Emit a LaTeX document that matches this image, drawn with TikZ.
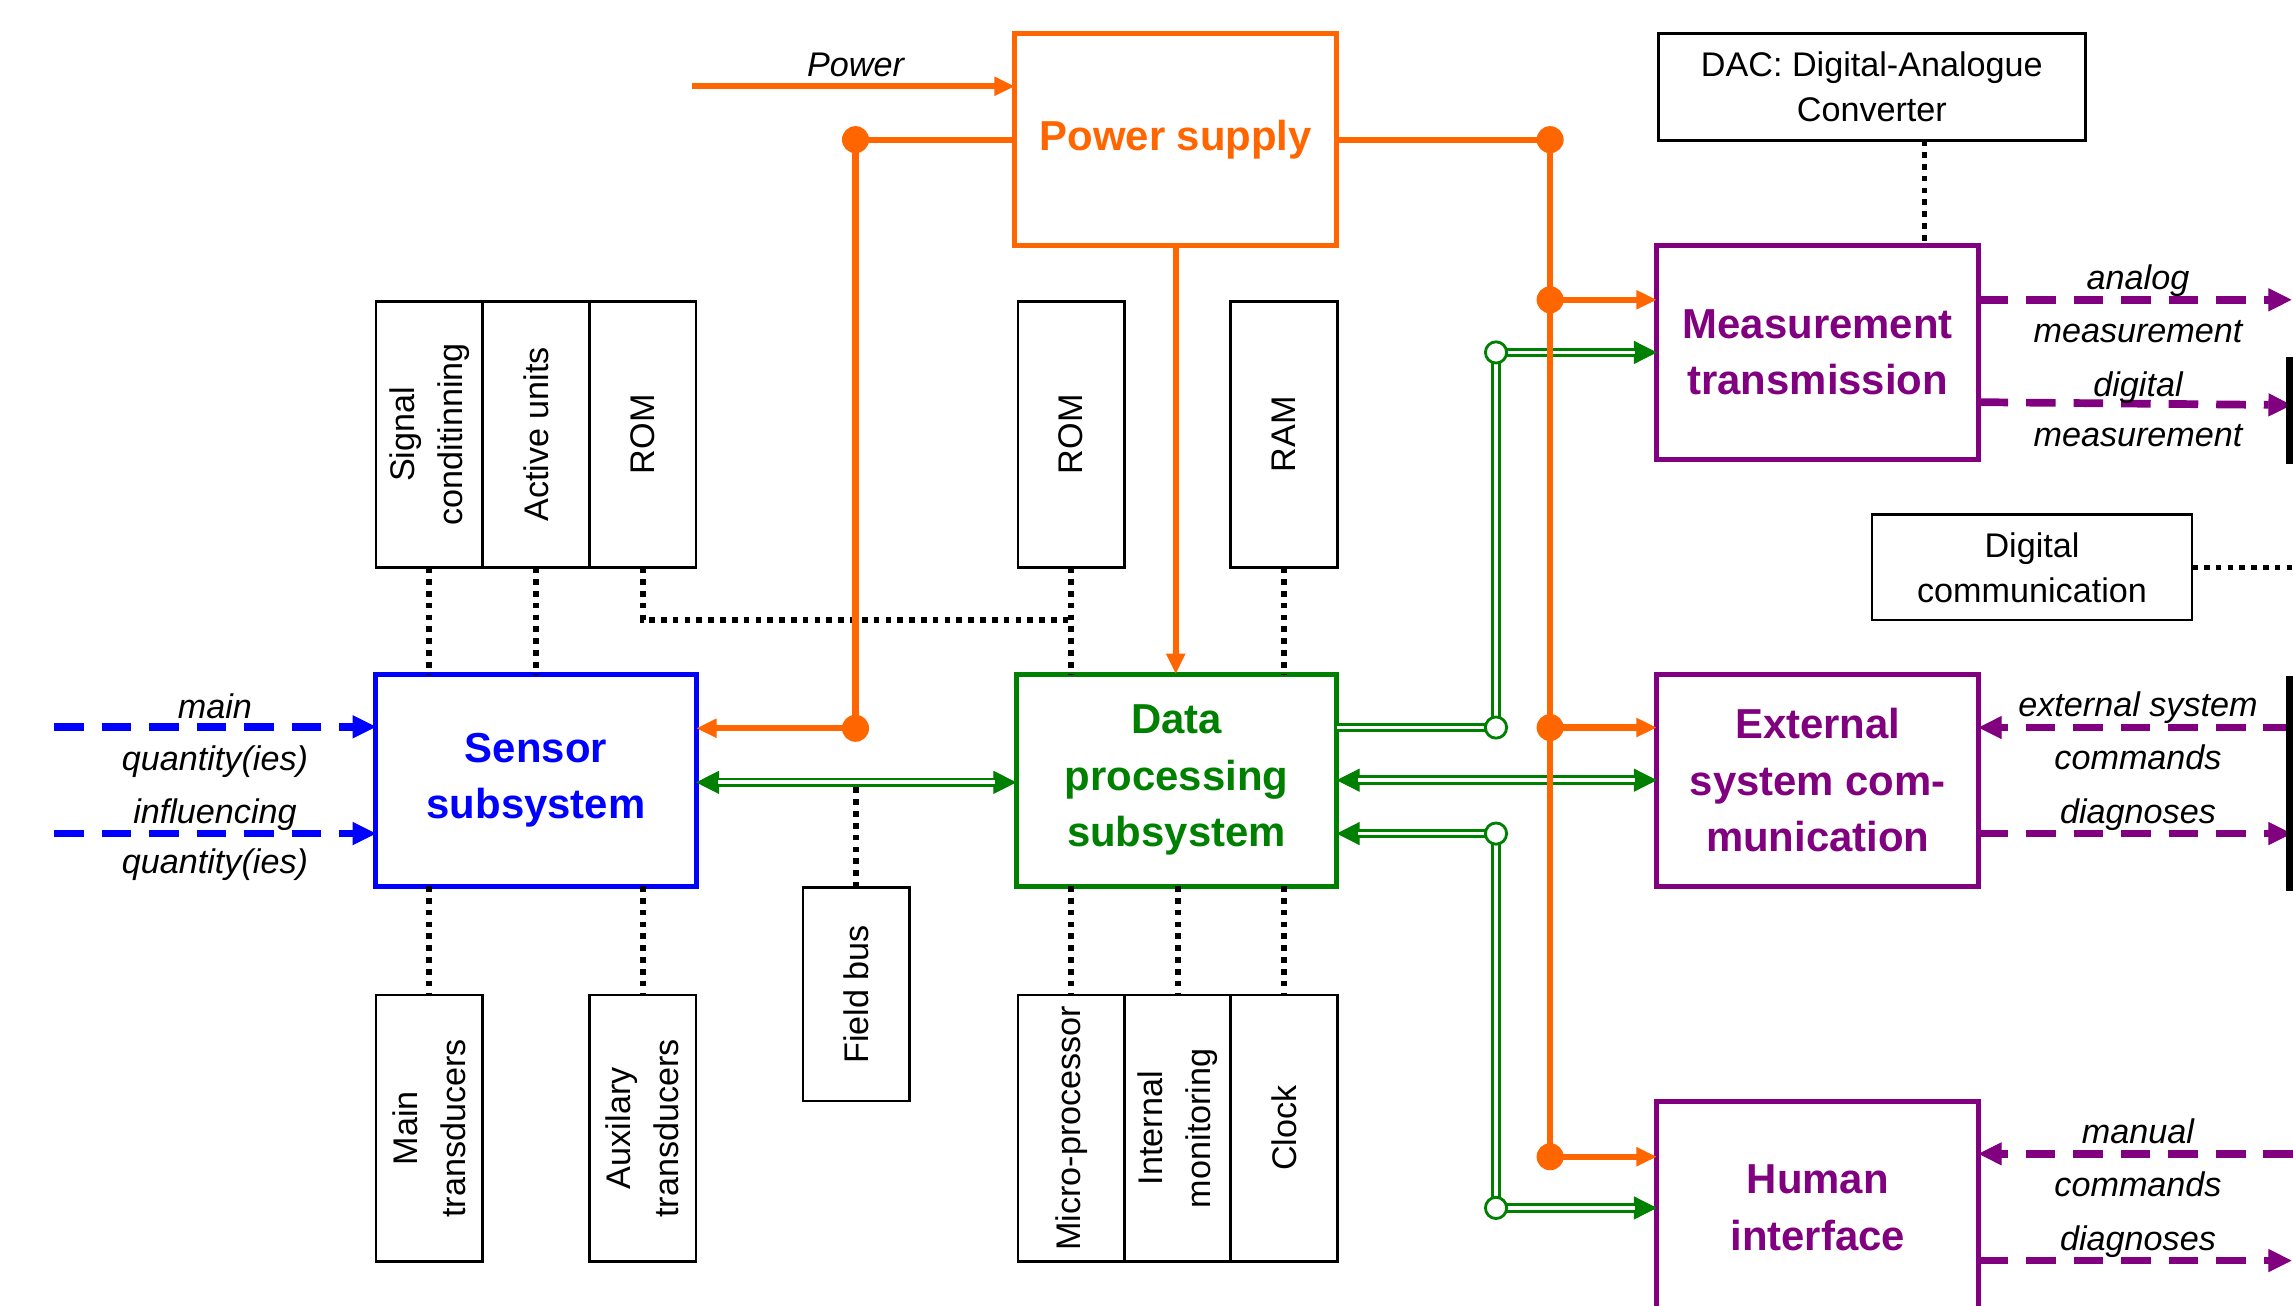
\documentclass[tikz,border=0pt]{standalone}
\usepackage{fontspec}
\setmainfont{Liberation Sans}
\usetikzlibrary{arrows.meta,calc}
\definecolor{orng}{RGB}{255,102,0}
\definecolor{blu}{RGB}{0,0,255}
\definecolor{grn}{RGB}{0,128,0}
\definecolor{purp}{RGB}{128,0,128}
\begin{document}
\begin{tikzpicture}[x=0.02cm,y=-0.02cm,
 bigbox/.style={draw, line width=1.9pt, fill=white, inner sep=0pt, outer sep=0pt, align=center, font=\fontsize{16.3}{22}\selectfont\bfseries},
 tall/.style={draw=black, line width=1pt, fill=white, inner sep=0pt, outer sep=0pt, minimum width=1.46cm, minimum height=3.64cm},
 txtbox/.style={draw=black, line width=1pt, fill=white, inner sep=0pt, outer sep=0pt, align=center, font=\fontsize{13.3}{17.6}\selectfont},
 vlab/.style={rotate=90, align=center, inner sep=0pt, font=\fontsize{13.3}{18.7}\selectfont},
 lab/.style={inner sep=0pt, anchor=base, font=\fontsize{13.3}{16}\selectfont\itshape},
 dotline/.style={draw=black, line width=2.2pt, dash pattern=on 2.2pt off 2.4pt},
 pline/.style={draw=orng, line width=2.4pt},
 ptip/.style={-{Triangle[length=8pt,width=7pt]}},
 odot/.style={circle, fill=orng, inner sep=0pt, minimum size=0.37cm},
 gcirc/.style={circle, draw=grn, fill=white, line width=1.1pt, inner sep=0pt, minimum size=0.29cm},
 gout/.style={draw=grn, line width=3.8pt},
 gin/.style={draw=white, line width=1.5pt},
 gtip/.style={-{Triangle[length=9pt,width=9pt,line width=0.4pt]}},
 gtips/.style={{Triangle[length=9pt,width=9pt,line width=0.4pt]}-{Triangle[length=9pt,width=9pt,line width=0.4pt]}},
 dashp/.style={draw=purp, line width=3pt, dash pattern=on 11.5pt off 7pt},
 dashb/.style={draw=blu, line width=3pt, dash pattern=on 11.5pt off 7pt},
 dtip/.style={-{Triangle[length=9pt,width=9pt,line width=0.4pt]}},
]
\useasboundingbox (0,0) rectangle (1568,893);
\clip (0,0) rectangle (1568,893);

% main boxes
\node[bigbox, draw=orng, text=orng, minimum width=4.4cm, minimum height=2.9cm] (ps) at (804,95.5) {Power supply};
\node[bigbox, draw=blu, text=blu, minimum width=4.38cm, minimum height=2.9cm] (sens) at (366.5,533.5) {Sensor\\subsystem};
\node[bigbox, draw=grn, text=grn, minimum width=4.38cm, minimum height=2.9cm] (dp) at (804.5,533.5) {Data\\processing\\subsystem};
\node[bigbox, draw=purp, text=purp, minimum width=4.4cm, minimum height=2.92cm] (mt) at (1243,241) {Measurement\\transmission};
\node[bigbox, draw=purp, text=purp, minimum width=4.4cm, minimum height=2.9cm] (ext) at (1243,533.5) {External\\system com-\\munication};
\node[bigbox, draw=purp, text=purp, minimum width=4.4cm, minimum height=2.92cm] (hi) at (1243,826) {Human\\interface};

% text boxes
\node[txtbox, minimum width=5.84cm, minimum height=1.46cm] (dac) at (1280,59.5) {DAC: Digital-Analogue\\Converter};
\node[txtbox, minimum width=4.38cm, minimum height=1.44cm] (dc) at (1389.5,388) {Digital\\communication};

% tall boxes
\node[tall] (sc) at (293.5,297) {};
\node[vlab] (sct) at (sc) {Signal\\conditinning};
\node[tall] (au) at (366.5,297) {};
\node[vlab] (aut) at (au) {Active units};
\node[tall] (rom1) at (439.5,297) {};
\node[vlab] (rom1t) at (rom1) {ROM};
\node[tall] (rom2) at (732.5,297) {};
\node[vlab] (rom2t) at (rom2) {ROM};
\node[tall] (ram) at (878,297) {};
\node[vlab] (ramt) at (ram) {RAM};
\node[tall] (mtr) at (293.5,771.5) {};
\node[vlab] (mtrt) at (mtr) {Main\\transducers};
\node[tall] (atr) at (439.5,771.5) {};
\node[vlab] (atrt) at (atr) {Auxilary\\transducers};
\node[tall] (mp) at (732.5,771.5) {};
\node[vlab] (mpt) at (mp) {Micro-processor};
\node[tall] (im) at (805.5,771.5) {};
\node[vlab] (imt) at (im) {Internal\\monitoring};
\node[tall] (clk) at (878,771.5) {};
\node[vlab] (clkt) at (clk) {Clock};
\node[tall, minimum height=2.92cm] (fb) at (585.5,680) {};
\node[vlab] (fbt) at (fb) {Field bus};

% helper coordinates
\coordinate (romj) at (0,424);
\coordinate (gbus) at (0,535);
\coordinate (dacx) at (1316,0);
\coordinate (redge) at (1568,0);
\coordinate (ja) at (1023,241);
\coordinate (jb) at (1023,497.5);
\coordinate (jc) at (1023,570);
\coordinate (jd) at (1023,826);
\coordinate (pin) at (473,59);
\coordinate (o1) at (585,95.5);
\coordinate (o2) at (585,498);
\coordinate (o3) at (1060,95.5);
\coordinate (o4) at (1060,205);
\coordinate (o5) at (1060,497.5);
\coordinate (o6) at (1060,791);

% dotted links
\draw[dotline] (sc.south) -- (sc.south |- sens.north);
\draw[dotline] (au.south) -- (au.south |- sens.north);
\draw[dotline] (rom1.south) |- (rom2.south |- romj);
\draw[dotline] (rom2.south) -- (rom2.south |- dp.north);
\draw[dotline] (ram.south) -- (ram.south |- dp.north);
\draw[dotline] (sens.south -| mtr.north) -- (mtr.north);
\draw[dotline] (sens.south -| atr.north) -- (atr.north);
\draw[dotline] (dp.south -| mp.north) -- (mp.north);
\draw[dotline] (dp.south -| im.north) -- (im.north);
\draw[dotline] (dp.south -| clk.north) -- (clk.north);
\draw[dotline] (fb.north) -- (fb.north |- gbus);
\draw[dotline] (dac.south -| dacx) -- (mt.north -| dacx);
\draw[dotline] (dc.east) -- (dc.east -| redge);

% green data links
\draw[gout, gtips] (sens.east |- gbus) -- (dp.west |- gbus);
\draw[gin, shorten <=8.5pt, shorten >=8.5pt] (sens.east |- gbus) -- (dp.west |- gbus);
\draw[gout, gtip] (dp.east |- jb) -- (jb) -- (ja) -- (mt.west |- ja);
\draw[gin, shorten >=8.5pt] (dp.east |- jb) -- (jb) -- (ja) -- (mt.west |- ja);
\draw[gout, gtips] (dp.east) -- (ext.west);
\draw[gin, shorten <=8.5pt, shorten >=8.5pt] (dp.east) -- (ext.west);
\draw[gout, gtips] (dp.east |- jc) -- (jc) -- (jd) -- (hi.west |- jd);
\draw[gin, shorten <=8.5pt, shorten >=8.5pt] (dp.east |- jc) -- (jc) -- (jd) -- (hi.west |- jd);
\node[gcirc] (ca) at (ja) {};
\node[gcirc] (cb) at (jb) {};
\node[gcirc] (cc) at (jc) {};
\node[gcirc] (cd) at (jd) {};

% orange power links
\draw[pline, ptip] (pin) -- (ps.west |- pin);
\draw[pline] (ps.west |- o1) -- (o1) -- (o2);
\draw[pline, ptip] (o2) -- (sens.east |- o2);
\draw[pline] (ps.east |- o3) -- (o3) -- (o6);
\draw[pline, ptip] (o4) -- (mt.west |- o4);
\draw[pline, ptip] (o5) -- (ext.west |- o5);
\draw[pline, ptip] (o6) -- (hi.west |- o6);
\draw[pline, ptip] (ps.south) -- (ps.south |- dp.north);
\node[odot] (d1) at (o1) {};
\node[odot] (d2) at (o2) {};
\node[odot] (d3) at (o3) {};
\node[odot] (d4) at (o4) {};
\node[odot] (d5) at (o5) {};
\node[odot] (d6) at (o6) {};

% purple outputs
\coordinate (pa) at (1567,205);
\coordinate (pb) at (1567,277);
\coordinate (pc) at (1568,497.5);
\coordinate (pd) at (1567,570);
\coordinate (pe) at (1568,789);
\coordinate (pf) at (1567,862);
\draw[dashp, dtip] (mt.east |- pa) -- (pa);
\draw[dashp, dtip] (mt.east |- 0,275) -- (pb);
\draw[dashp, dtip] (pc) -- (ext.east |- pc);
\draw[dashp, dtip] (ext.east |- pd) -- (pd);
\draw[dashp, dtip] (pe) -- (hi.east |- pe);
\draw[dashp, dtip] (hi.east |- pf) -- (pf);
\fill[black] (1563,244) rectangle (1568,317);
\fill[black] (1563,462) rectangle (1568,609);

% blue inputs
\coordinate (ba) at (37,497);
\coordinate (bb) at (37,570);
\draw[dashb, dtip] (ba) -- (sens.west |- ba);
\draw[dashb, dtip] (bb) -- (sens.west |- bb);

% labels
\node[lab] (lpow) at (585,52) {Power};
\node[lab] (lm1) at (147,491) {main};
\node[lab] (lm2) at (147,527) {quantity(ies)};
\node[lab] (li1) at (147,563) {influencing};
\node[lab] (li2) at (147,597) {quantity(ies)};
\node[lab] (la1) at (1462,198) {analog};
\node[lab] (la2) at (1462,234) {measurement};
\node[lab] (ld1) at (1462,271) {digital};
\node[lab] (ld2) at (1462,305) {measurement};
\node[lab] (le1) at (1462,490) {external system};
\node[lab] (le2) at (1462,526) {commands};
\node[lab] (le3) at (1462,563) {diagnoses};
\node[lab] (lh1) at (1462,782) {manual};
\node[lab] (lh2) at (1462,818) {commands};
\node[lab] (lh3) at (1462,855) {diagnoses};
\end{tikzpicture}
\end{document}
